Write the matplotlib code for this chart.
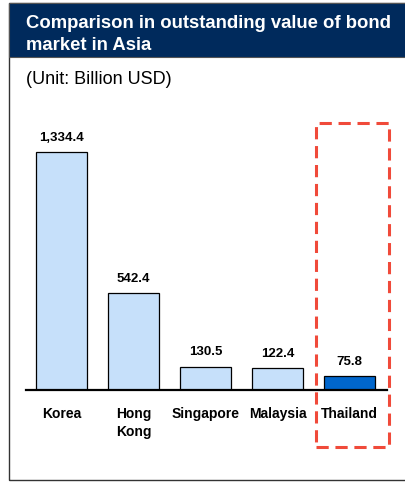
import matplotlib
matplotlib.use("Agg")
import matplotlib.pyplot as plt
from matplotlib.patches import Rectangle

plt.rcParams["font.family"] = ["Liberation Sans", "DejaVu Sans"]

W, H = 405, 484

countries = ["Korea", "Hong\nKong", "Singapore", "Malaysia", "Thailand"]
values = [1334.4, 542.4, 130.5, 122.4, 75.8]
value_labels = ["1,334.4", "542.4", "130.5", "122.4", "75.8"]
highlight = "Thailand"

LIGHT = "#c6e0fa"
DARK = "#0066cc"
NAVY = "#002a5c"
RED = "#f04a3a"


def fx(px):
    return px / W


def fy(py):
    return 1 - py / H


fig = plt.figure(figsize=(W / 100, H / 100), dpi=100)

# outer frame and header band
fig.patches.append(Rectangle((fx(9), fy(480)), fx(400), 477 / H, transform=fig.transFigure,
                             facecolor="none", edgecolor="#333333", linewidth=1.0, zorder=0))
fig.patches.append(Rectangle((fx(9), fy(57)), fx(400), 54 / H, transform=fig.transFigure,
                             facecolor=NAVY, edgecolor="#555555", linewidth=0.8, zorder=1))
fig.text(fx(26), fy(34.5), "Comparison in outstanding value of bond\nmarket in Asia",
         color="white", fontsize=13.3, fontweight="bold", va="center", ha="left",
         linespacing=1.38)
fig.text(fx(26), fy(79), "(Unit: Billion USD)", fontsize=13, va="center", ha="left")

# bar area
ax_left, ax_right, ax_bottom, ax_top = 26, 387, 390, 100
ax = fig.add_axes([fx(ax_left), fy(ax_bottom), (ax_right - ax_left) / W, (ax_bottom - ax_top) / H])
ax.patch.set_alpha(0)
pitch = 72
x = list(range(len(countries)))
colors = [DARK if c == highlight else LIGHT for c in countries]
bars = ax.bar(x, values, width=51 / pitch, color=colors, edgecolor="black", linewidth=0.9)
ax.set_xlim(-35.5 / pitch, (ax_right - ax_left - 35.5) / pitch)
ax.set_ylim(0, (ax_bottom - ax_top) / 0.1784)

for xi, v, lab in zip(x, values, value_labels):
    ax.annotate(lab, (xi, v), xytext=(0, 6), textcoords="offset points",
                ha="center", va="bottom", fontsize=9.5, fontweight="bold")

ax.set_xticks(x)
ax.set_xticklabels(countries, fontsize=10, fontweight="bold", linespacing=1.35, va="top")
ax.tick_params(axis="x", length=0, pad=12)
ax.set_yticks([])
for s in ("top", "right", "left"):
    ax.spines[s].set_visible(False)
ax.spines["bottom"].set_linewidth(1.6)

# dashed highlight box around Thailand
fig.patches.append(Rectangle((fx(316), fy(447)), fx(73), (447 - 123) / H, transform=fig.transFigure,
                             facecolor="none", edgecolor=RED, linewidth=2.2,
                             linestyle=(0, (4, 2.2)), zorder=5))

fig.savefig("out.png", dpi=100)
